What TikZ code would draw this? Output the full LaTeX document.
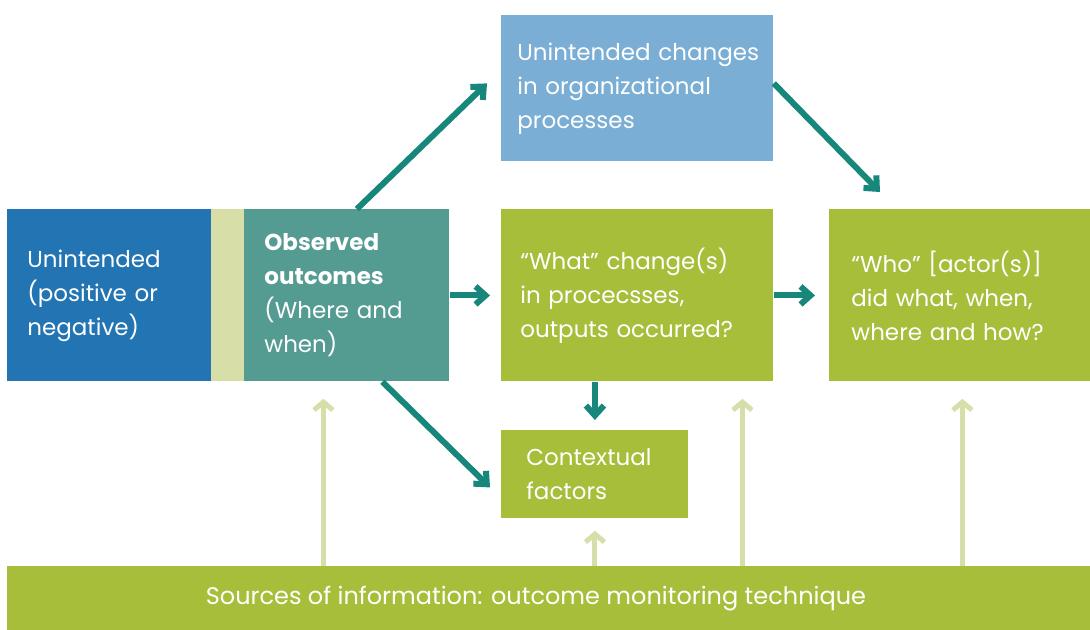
\documentclass[tikz,border=0pt]{standalone}
\usepackage{fontspec}
\setmainfont{Poppins}
\usetikzlibrary{arrows.meta}
\definecolor{deepblue}{RGB}{35,116,178}
\definecolor{paleblue}{RGB}{122,174,212}
\definecolor{stripgreen}{RGB}{216,222,168}
\definecolor{tealbox}{RGB}{84,155,146}
\definecolor{leafgreen}{RGB}{166,190,58}
\definecolor{tealarrow}{RGB}{23,135,124}
\definecolor{srclight}{RGB}{214,223,170}
\begin{document}
\begin{tikzpicture}[x=0.5pt,y=-0.5pt,
    box/.style={anchor=north west, inner ysep=0pt, align=left, text=white,
        font=\fontsize{11.5}{17}\selectfont},
    flow/.style={draw=tealarrow, line width=3pt, line join=miter,
        -{Straight Barb[length=5pt,width=9pt]}},
    src/.style={draw=srclight, line width=2.5pt, line join=miter,
        -{Straight Barb[length=4pt,width=9.5pt]}}]
    \useasboundingbox (0,0) rectangle (1090,630);
    % left part
    \node[box, fill=deepblue, inner xsep=10pt, text width=82pt, minimum height=86pt] (unint) at (7,209)
        {Unintended\\(positive or\\negative)};
    \node[box, fill=stripgreen, inner xsep=0pt, minimum width=16.5pt, minimum height=86pt] (strip) at (211,209) {};
    \node[box, fill=tealbox, inner xsep=10pt, text width=82.5pt, minimum height=86pt] (obs) at (244,209)
        {\textbf{Observed}\\\textbf{outcomes}\\(Where and\\when)};
    % middle and right
    \node[box, fill=paleblue, inner xsep=8pt, text width=120pt, minimum height=73pt] (top) at (501,15)
        {Unintended~changes\\in organizational\\processes};
    \node[box, fill=leafgreen, inner xsep=9.5pt, text width=117pt, minimum height=86pt] (what) at (501,209)
        {``What'' change(s)\\in procecsses,\\outputs occurred?};
    \node[box, fill=leafgreen, inner xsep=11pt, text width=108.5pt, minimum height=86pt] (who) at (829,209)
        {``Who'' [actor(s)]\\did what, when,\\where and how?};
    \node[box, fill=leafgreen, inner xsep=12.5pt, text width=68.5pt, minimum height=44pt] (ctx) at (501,430)
        {Contextual\\factors};
    \node[box, fill=leafgreen, align=center, inner xsep=0pt, minimum width=541.5pt, minimum height=32pt,
        font=\fontsize{12}{17}\selectfont] (bar) at (7,566)
        {Sources of information: outcome monitoring technique\hspace*{13pt}};
    % teal connectors
    \draw[flow] ([xshift=5pt]obs.north) -- ([xshift=-7pt,yshift=2.5pt]top.west);
    \draw[flow] ([yshift=2.5pt]top.east) -- ([xshift=25.5pt,yshift=8.5pt]who.north west);
    \draw[flow] (obs.east) -- ([xshift=-5.5pt]what.west);
    \draw[flow] (what.east) -- ([xshift=-7pt]who.west);
    \draw[flow] (what.south -| ctx.north) -- ([yshift=5pt]ctx.north);
    \draw[flow] ([xshift=17.75pt]obs.south) -- ([xshift=-5.5pt,yshift=-6.5pt]ctx.west);
    % sources pointing up
    \coordinate (s1) at ([xshift=-11.75pt,yshift=-8.5pt]obs.south);
    \coordinate (s2) at ([yshift=-6pt]ctx.south);
    \coordinate (s3) at ([xshift=52.5pt,yshift=-8.5pt]what.south);
    \coordinate (s4) at ([xshift=1.25pt,yshift=-8.5pt]who.south);
    \foreach \s in {s1,s2,s3,s4}{
    \draw[src] (bar.north -| \s) -- (\s);
    }
\end{tikzpicture}
\end{document}
